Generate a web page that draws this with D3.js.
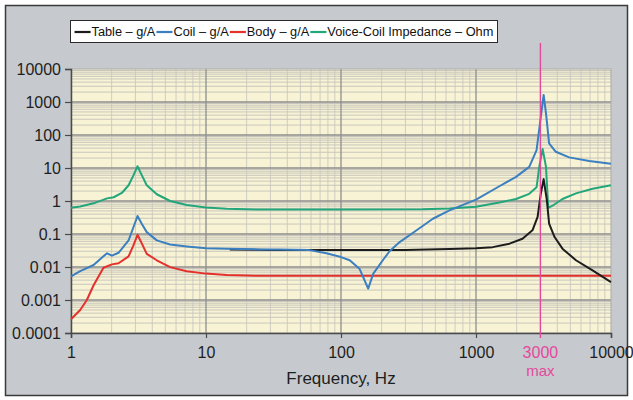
<!DOCTYPE html>
<html>
<head>
<meta charset="utf-8">
<script src="https://cdn.jsdelivr.net/npm/d3@7"></script>
<style>
  body { margin: 0; background: #ffffff; }
  svg { display: block; font-family: "Liberation Sans", Arial, sans-serif; }
</style>
</head>
<body>
<svg id="chart" width="633" height="400"></svg>
<script>
// ---------------- data ----------------
const seriesNames = ["Table – g/A", "Coil – g/A", "Body – g/A", "Voice-Coil Impedance – Ohm"];
const seriesColors = ["#1c1c1c", "#3b7fc0", "#e5302c", "#22a67a"];

const tableFreq = [15, 30, 60, 100, 300, 636, 1000, 1330, 1770, 2210, 2620, 2860, 3020, 3170, 3350, 3480, 3820, 4370, 5500, 7300, 10000];
const tableVals = [0.034, 0.033, 0.033, 0.033, 0.033, 0.035, 0.037, 0.040, 0.051, 0.072, 0.129, 0.33, 1.68, 4.6, 1.05, 0.205, 0.081, 0.036, 0.016, 0.0079, 0.0035];

const coilFreq = [1, 1.17, 1.47, 1.74, 1.85, 2.01, 2.25, 2.67, 2.9, 3.11, 3.35, 3.64, 4.32, 5.42, 7.19, 10, 14.2, 25, 35, 57, 78, 100, 116, 137, 159, 173, 204, 229, 272, 361, 479, 636, 1000, 1490, 1980, 2480, 2810, 3020, 3170, 3300, 3480, 3900, 4900, 6900, 10000];
const coilVals = [0.0052, 0.0075, 0.0115, 0.021, 0.026, 0.022, 0.027, 0.064, 0.16, 0.35, 0.20, 0.114, 0.064, 0.048, 0.042, 0.037, 0.036, 0.034, 0.034, 0.033, 0.026, 0.020, 0.016, 0.0089, 0.0022, 0.0062, 0.016, 0.030, 0.057, 0.128, 0.29, 0.52, 1.1, 2.8, 5.4, 10.8, 35, 357, 1630, 455, 56, 31, 21, 16.4, 13.5];

const bodyFreq = [1, 1.17, 1.31, 1.47, 1.74, 2.01, 2.25, 2.67, 2.9, 3.11, 3.35, 3.64, 4.32, 5.42, 7.19, 10, 14.2, 25, 100, 1000, 10000];
const bodyVals = [0.00026, 0.0005, 0.001, 0.0028, 0.0095, 0.012, 0.013, 0.021, 0.045, 0.095, 0.051, 0.025, 0.016, 0.0099, 0.0074, 0.0063, 0.0057, 0.0054, 0.0054, 0.0054, 0.0054];

const impFreq = [1, 1.17, 1.47, 1.85, 2.07, 2.38, 2.67, 2.9, 3.11, 3.35, 3.64, 4.32, 5.42, 7.19, 10, 14.2, 25, 100, 400, 636, 1000, 1490, 1980, 2480, 2810, 2940, 3115, 3300, 3430, 3690, 4370, 5500, 7300, 10000];
const impVals = [0.62, 0.68, 0.85, 1.2, 1.3, 1.75, 3.0, 6.0, 11.3, 6.0, 3.0, 1.6, 1.0, 0.76, 0.64, 0.58, 0.55, 0.55, 0.56, 0.59, 0.67, 0.9, 1.15, 1.65, 2.6, 10.8, 38, 10.8, 0.62, 0.72, 1.15, 1.7, 2.35, 3.0];

const xTicks = [1, 10, 100, 1000, 10000];
const yTicks = [0.0001, 0.001, 0.01, 0.1, 1, 10, 100, 1000, 10000];
const markerFreq = 3000;
const markerLabels = ["3000", "max"];
const xTitle = "Frequency, Hz";

// ---------------- layout ----------------
const svg = d3.select("#chart");
const W = 633, H = 400;
const plot = { left: 71, right: 611, top: 69, bottom: 333 };

svg.append("rect").attr("x", 0).attr("y", 0).attr("width", W).attr("height", H).attr("fill", "#ffffff");
svg.append("rect").attr("x", 5.5).attr("y", 5.5).attr("width", 622).attr("height", 390)
  .attr("fill", "#c6cace").attr("stroke", "#3a3a3a").attr("stroke-width", 1.5);

const x = d3.scaleLog().domain([1, 10000]).range([plot.left, plot.right]);
const y = d3.scaleLog().domain([0.0001, 10000]).range([plot.bottom, plot.top]);

// plot background
svg.append("rect").attr("x", plot.left).attr("y", plot.top)
  .attr("width", plot.right - plot.left).attr("height", plot.bottom - plot.top)
  .attr("fill", "#f7f3d4");

// minor gridlines
const g = svg.append("g");
const minorX = [], minorY = [];
for (let d = 1; d < 10000; d *= 10) for (let k = 2; k <= 9; k++) minorX.push(d * k);
for (let d = 0.0001; d < 9999; d *= 10) for (let k = 2; k <= 9; k++) minorY.push(d * k);
g.selectAll(".mx").data(minorX).join("line")
  .attr("x1", d => x(d)).attr("x2", d => x(d)).attr("y1", plot.top).attr("y2", plot.bottom)
  .attr("stroke", "#cfcdc2").attr("stroke-width", 1);
g.selectAll(".my").data(minorY).join("line")
  .attr("x1", plot.left).attr("x2", plot.right).attr("y1", d => y(d)).attr("y2", d => y(d))
  .attr("stroke", "#c8c6bc").attr("stroke-width", 1);
// major gridlines
g.selectAll(".Mx").data(xTicks.slice(1, -1)).join("line")
  .attr("x1", d => x(d)).attr("x2", d => x(d)).attr("y1", plot.top).attr("y2", plot.bottom)
  .attr("stroke", "#8e8e8e").attr("stroke-width", 1.3);
g.selectAll(".My").data(yTicks.slice(1, -1)).join("line")
  .attr("x1", plot.left).attr("x2", plot.right).attr("y1", d => y(d)).attr("y2", d => y(d))
  .attr("stroke", "#8e8e8e").attr("stroke-width", 1.5);
// plot border (light)
svg.append("rect").attr("x", plot.left).attr("y", plot.top)
  .attr("width", plot.right - plot.left).attr("height", plot.bottom - plot.top)
  .attr("fill", "none").attr("stroke", "#a9a9a9").attr("stroke-width", 1);

// axes
const fmt = d => (d >= 1 ? d3.format("d")(d) : String(+d.toPrecision(1)));
const yAxis = svg.append("g").attr("transform", `translate(${plot.left},0)`)
  .call(d3.axisLeft(y).tickValues(yTicks).tickFormat(fmt).tickSize(6).tickPadding(4));
const xAxis = svg.append("g").attr("transform", `translate(0,${plot.bottom})`)
  .call(d3.axisBottom(x).tickValues(xTicks).tickFormat(fmt).tickSize(5).tickPadding(8));
[yAxis, xAxis].forEach(a => {
  a.select(".domain").attr("stroke", "#4a4a4a").attr("stroke-width", 1.5);
  a.selectAll(".tick line").attr("stroke", "#4a4a4a").attr("stroke-width", 1.2);
  a.selectAll(".tick text").attr("fill", "#1e1e1e").attr("font-size", 16)
    .attr("font-family", "'Liberation Sans', Arial, sans-serif");
});
xAxis.selectAll(".tick text").attr("dy", null).attr("y", 25);

// x title
svg.append("text").attr("x", x(100)).attr("y", 384).attr("text-anchor", "middle")
  .attr("font-size", 17).attr("fill", "#1e1e1e").text(xTitle);

// series
const series = [
  { f: tableFreq, v: tableVals },
  { f: coilFreq, v: coilVals },
  { f: bodyFreq, v: bodyVals },
  { f: impFreq, v: impVals }
];
const line = d3.line().x(d => x(d[0])).y(d => y(d[1])).curve(d3.curveLinear);
[2, 3, 0, 1].forEach(i => {
  const pts = series[i].f.map((f, j) => [f, series[i].v[j]]);
  svg.append("path").datum(pts).attr("d", line).attr("fill", "none")
    .attr("stroke", seriesColors[i]).attr("stroke-width", 2).attr("stroke-linejoin", "round");
});

// marker at 3000 Hz
const mColor = "#e4489c";
svg.append("line").attr("x1", x(markerFreq)).attr("x2", x(markerFreq))
  .attr("y1", 43).attr("y2", plot.bottom + 5).attr("stroke", mColor).attr("stroke-width", 1.4);
svg.append("text").attr("x", x(markerFreq)).attr("y", 358).attr("text-anchor", "middle")
  .attr("font-size", 16).attr("fill", mColor).text(markerLabels[0]);
svg.append("text").attr("x", x(markerFreq)).attr("y", 376).attr("text-anchor", "middle")
  .attr("font-size", 15).attr("fill", mColor).text(markerLabels[1]);

// legend
const legLeft = 70.5, legRight = 497.5;
const leg = svg.append("g");
const legBox = leg.append("rect").attr("x", legLeft).attr("y", 20.5).attr("height", 22)
  .attr("width", legRight - legLeft)
  .attr("fill", "#ffffff").attr("stroke", "#2a2a2a").attr("stroke-width", 1);
const items = leg.append("g");
let cx = 0;
seriesNames.forEach((name, i) => {
  items.append("line").attr("x1", cx).attr("x2", cx + 17).attr("y1", 32).attr("y2", 32)
    .attr("stroke", seriesColors[i]).attr("stroke-width", 2.2);
  const t = items.append("text").attr("x", cx + 18).attr("y", 36.5).attr("font-size", 13.5)
    .attr("fill", "#111").text(name);
  cx += 18 + t.node().getComputedTextLength() + 1;
});
const avail = legRight - legLeft - 7;
const sx = Math.min(1, avail / cx);
items.attr("transform", `translate(${legLeft + 4},0) scale(${sx},1)`);
</script>
</body>
</html>
